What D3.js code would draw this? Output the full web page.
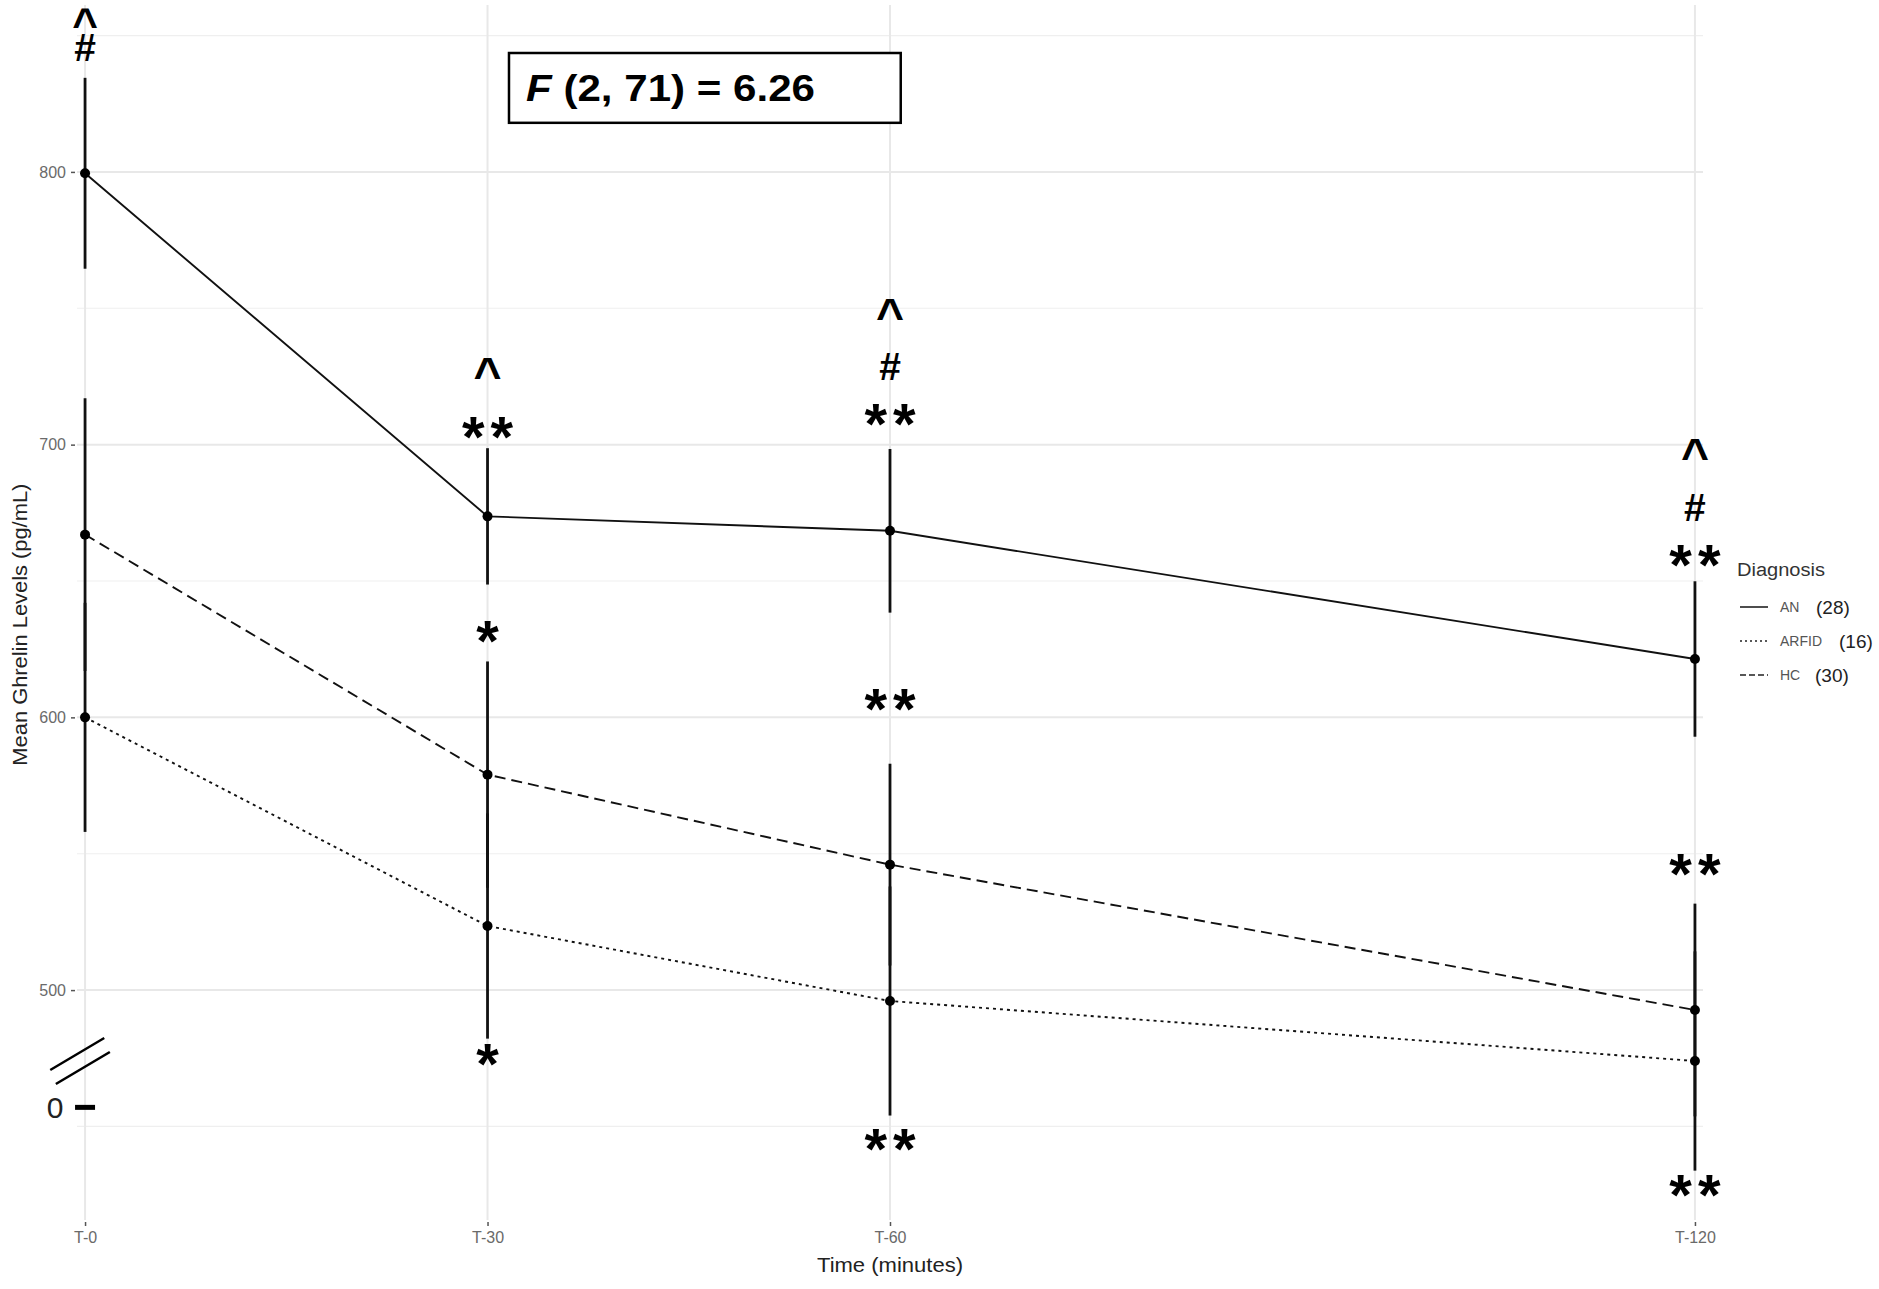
<!DOCTYPE html>
<html>
<head>
<meta charset="utf-8">
<script src="https://cdn.jsdelivr.net/npm/d3@7"></script>
<style>
  body { margin: 0; background: #fff; }
  svg { display: block; font-family: "Liberation Sans", Arial, sans-serif; }
</style>
</head>
<body>
<div id="wrapper"></div>
<script>
// Data
const timePoints = [0, 30, 60, 120]
const timeLabels = ["T-0", "T-30", "T-60", "T-120"]
const groups = ["AN", "ARFID", "HC"]
const groupCounts = ["(28)", "(16)", "(30)"]

const anMeans = [799.5, 673.7, 668.4, 621.4]
const anErrors = [35, 25, 30, 28.5]
const arfidMeans = [600, 523.5, 496, 474]
const arfidErrors = [42, 41.3, 42, 40.2]
const hcMeans = [667, 579, 546, 492.7]
const hcErrors = [50, 41.5, 37, 39]

const yTicks = [500, 600, 700, 800]
const yMinorTicks = [450, 550, 650, 750, 850]

// significance marks: time, symbol, level (pg/mL) of the mark centre
const marks = [
    [0, "^", 856.0], [0, "#", 845.5],
    [30, "^", 727.0], [30, "**", 705.6], [30, "*", 631.0], [30, "*", 475.9],
    [60, "^", 748.8], [60, "#", 728.5], [60, "**", 710.5], [60, "**", 606.1], [60, "**", 444.7],
    [120, "^", 697.4], [120, "#", 676.8], [120, "**", 658.9], [120, "**", 545.3], [120, "**", 427.9],
]

const statText = "(2, 71) = 6.26"

function drawChart() {
    const series = [
        { name: groups[0], means: anMeans, errors: anErrors, dash: null, keyDash: null },
        { name: groups[1], means: arfidMeans, errors: arfidErrors, dash: "3,4", keyDash: "2,3" },
        { name: groups[2], means: hcMeans, errors: hcErrors, dash: "11,6", keyDash: "6,3" },
    ]

    // Dimensions
    let dimensions = {
        width: 1879,
        height: 1289,
        margins: { top: 5, right: 176, bottom: 69, left: 77 }
    }
    dimensions.boundedWidth = dimensions.width - dimensions.margins.left - dimensions.margins.right
    dimensions.boundedHeight = dimensions.height - dimensions.margins.top - dimensions.margins.bottom

    const svg = d3.select("#wrapper")
        .append("svg")
            .attr("width", dimensions.width)
            .attr("height", dimensions.height)

    const bounds = svg.append("g")
        .attr("transform", `translate(${dimensions.margins.left},${dimensions.margins.top})`)

    // Scales
    const xScale = d3.scaleLinear()
        .domain([-0.6, 120.6])
        .range([0, dimensions.boundedWidth])

    const yScale = d3.scaleLinear()
        .domain([415.7, 861.2])
        .range([dimensions.boundedHeight, 0])

    // Grid
    const grid = bounds.append("g")
    grid.selectAll(".minor")
        .data(yMinorTicks)
        .join("line")
            .attr("x1", 0).attr("x2", dimensions.boundedWidth)
            .attr("y1", d => yScale(d)).attr("y2", d => yScale(d))
            .attr("stroke", "#efefef").attr("stroke-width", 1.2)
    grid.selectAll(".major")
        .data(yTicks)
        .join("line")
            .attr("x1", 0).attr("x2", dimensions.boundedWidth)
            .attr("y1", d => yScale(d)).attr("y2", d => yScale(d))
            .attr("stroke", "#e8e8e8").attr("stroke-width", 2)
    grid.selectAll(".vert")
        .data(timePoints)
        .join("line")
            .attr("x1", d => xScale(d)).attr("x2", d => xScale(d))
            .attr("y1", 0).attr("y2", dimensions.boundedHeight)
            .attr("stroke", "#e8e8e8").attr("stroke-width", 2)

    // Axes
    const yAxisGenerator = d3.axisLeft(yScale)
        .tickValues(yTicks)
        .tickSize(4)
        .tickPadding(5)
    const yAxis = bounds.append("g")
        .attr("transform", "translate(-2,0)")
        .call(yAxisGenerator)
    yAxis.select(".domain").remove()
    yAxis.selectAll("line").attr("stroke", "#555").attr("stroke-width", 1.5)
    yAxis.selectAll("text").attr("fill", "#6a6a6a").style("font-size", "16px")

    const xAxisGenerator = d3.axisBottom(xScale)
        .tickValues(timePoints)
        .tickFormat((d, i) => timeLabels[i])
        .tickSize(4)
        .tickPadding(6)
    const xAxis = bounds.append("g")
        .attr("transform", `translate(0,${dimensions.boundedHeight + 2})`)
        .call(xAxisGenerator)
    xAxis.select(".domain").remove()
    xAxis.selectAll("line").attr("stroke", "#555").attr("stroke-width", 1.5)
    xAxis.selectAll("text").attr("fill", "#6a6a6a").style("font-size", "16px")

    svg.append("text")
        .attr("x", dimensions.margins.left + xScale(60))
        .attr("y", 1272)
        .attr("text-anchor", "middle")
        .attr("fill", "#222")
        .style("font-size", "21px")
        .attr("textLength", 146)
        .attr("lengthAdjust", "spacingAndGlyphs")
        .text("Time (minutes)")

    svg.append("text")
        .attr("transform", `translate(27,${dimensions.margins.top + yScale(634)}) rotate(-90)`)
        .attr("text-anchor", "middle")
        .attr("fill", "#222")
        .style("font-size", "20px")
        .attr("textLength", 282)
        .attr("lengthAdjust", "spacingAndGlyphs")
        .text("Mean Ghrelin Levels (pg/mL)")

    // Error bars
    series.forEach(s => {
        bounds.append("g").selectAll("line")
            .data(timePoints)
            .join("line")
                .attr("x1", d => xScale(d)).attr("x2", d => xScale(d))
                .attr("y1", (d, i) => yScale(s.means[i] + s.errors[i]))
                .attr("y2", (d, i) => yScale(s.means[i] - s.errors[i]))
                .attr("stroke", "#111")
                .attr("stroke-width", 2.8)
    })

    // Lines and points
    const lineGenerator = d3.line()
        .x(d => xScale(d[0]))
        .y(d => yScale(d[1]))

    series.forEach(s => {
        bounds.append("path")
            .attr("d", lineGenerator(timePoints.map((t, i) => [t, s.means[i]])))
            .attr("fill", "none")
            .attr("stroke", "#111")
            .attr("stroke-width", 1.9)
            .attr("stroke-dasharray", s.dash)
        bounds.append("g").selectAll("circle")
            .data(timePoints)
            .join("circle")
                .attr("cx", d => xScale(d))
                .attr("cy", (d, i) => yScale(s.means[i]))
                .attr("r", 5)
                .attr("fill", "#000")
    })

    // Significance marks (shifted so the glyph centre lands on the level)
    const glyph = {
        "*": { size: 58, lift: 0.48, spacing: 6 },
        "**": { size: 58, lift: 0.48, spacing: 6 },
        "^": { size: 48, lift: 0.42, spacing: 0 },
        "#": { size: 39, lift: 0.34, spacing: 0 },
    }
    bounds.append("g").selectAll("text")
        .data(marks)
        .join("text")
            .attr("x", d => xScale(d[0]) + glyph[d[1]].spacing / 2)
            .attr("y", d => yScale(d[2]) + glyph[d[1]].size * glyph[d[1]].lift)
            .attr("text-anchor", "middle")
            .attr("font-weight", "bold")
            .attr("fill", "#000")
            .style("font-size", d => (d[0] === 0 && d[1] === "^" ? 44 : glyph[d[1]].size) + "px")
            .style("letter-spacing", d => glyph[d[1]].spacing + "px")
            .text(d => d[1])

    // Axis break and zero label
    const breakY = yScale(474)
    const breakG = bounds.append("g")
    ;[-7, 7].forEach(off => {
        breakG.append("line")
            .attr("x1", xScale(0) - 32 + off * 0.4).attr("y1", breakY + 16 + off)
            .attr("x2", xScale(0) + 22 + off * 0.4).attr("y2", breakY - 16 + off)
            .attr("stroke", "#000").attr("stroke-width", 2.5)
    })
    bounds.append("line")
        .attr("x1", xScale(0) - 10).attr("x2", xScale(0) + 10)
        .attr("y1", yScale(457)).attr("y2", yScale(457))
        .attr("stroke", "#000").attr("stroke-width", 5)
    bounds.append("text")
        .attr("x", xScale(0) - 30)
        .attr("y", yScale(457))
        .attr("dy", "0.36em")
        .attr("text-anchor", "middle")
        .attr("fill", "#222")
        .style("font-size", "30px")
        .text("0")

    // F statistic box
    const boxX = xScale(31.6), boxW = xScale(60.8) - xScale(31.6)
    const boxY = yScale(843.6), boxH = yScale(818) - yScale(843.6)
    bounds.append("rect")
        .attr("x", boxX).attr("y", boxY)
        .attr("width", boxW).attr("height", boxH)
        .attr("fill", "#fff")
        .attr("stroke", "#000").attr("stroke-width", 2.5)
    const stat = bounds.append("text")
        .attr("x", boxX + 17)
        .attr("y", boxY + boxH / 2 + 13)
        .attr("font-weight", "bold")
        .attr("fill", "#000")
        .style("font-size", "36px")
        .attr("textLength", 289)
        .attr("lengthAdjust", "spacingAndGlyphs")
    stat.append("tspan").attr("font-style", "italic").text("F")
    stat.append("tspan").text(" " + statText)

    // Legend
    const legend = svg.append("g")
        .attr("transform", "translate(1737,0)")
    legend.append("text")
        .attr("x", 0).attr("y", 576)
        .attr("fill", "#333")
        .style("font-size", "18px")
        .attr("textLength", 88)
        .attr("lengthAdjust", "spacingAndGlyphs")
        .text("Diagnosis")
    const keys = legend.selectAll(".key")
        .data(series)
        .join("g")
            .attr("transform", (d, i) => `translate(0,${607 + i * 34})`)
    keys.append("line")
        .attr("x1", 3).attr("x2", 31)
        .attr("stroke", "#222").attr("stroke-width", 1.6)
        .attr("stroke-dasharray", d => d.keyDash)
    keys.append("text")
        .attr("x", 43).attr("dy", "0.35em")
        .attr("fill", "#555")
        .style("font-size", "14px")
        .text(d => d.name)
    keys.append("text")
        .attr("x", (d, i) => [79, 102, 78][i]).attr("dy", "0.35em")
        .attr("fill", "#222")
        .style("font-size", "19px")
        .text((d, i) => groupCounts[i])
}
drawChart();
</script>
</body>
</html>
